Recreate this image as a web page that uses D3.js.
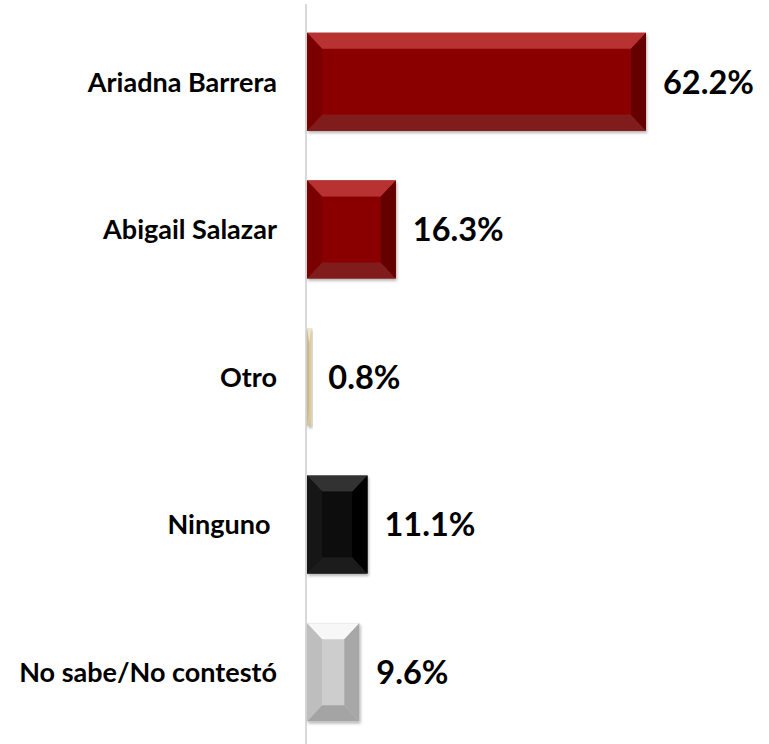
<!DOCTYPE html>
<html>
<head>
<meta charset="utf-8">
<script src="https://cdn.jsdelivr.net/npm/d3@7"></script>
<style>
  body { margin: 0; background: #fff; }
  text { font-family: Lato, "Open Sans", sans-serif; font-weight: bold; white-space: pre; }
</style>
</head>
<body>
<div class="chart"></div>
<script>
// data
const categories = ["Ariadna Barrera", "Abigail Salazar", "Otro", "Ninguno ", "No sabe/No contestó"];
const values = [62.2, 16.3, 0.8, 11.1, 9.6];
const valueLabels = ["62.2%", "16.3%", "0.8%", "11.1%", "9.6%"];

// bevel colours per bar: face, top, bottom, left, right
const shades = [
  { face: "#8a0505", top: "#b93333", bottom: "#801c1c", left: "#7a0303", right: "#650000" },
  { face: "#8a0505", top: "#b93333", bottom: "#801c1c", left: "#7a0303", right: "#650000" },
  { face: "#e3d5ab", top: "#efe6c8", bottom: "#d6c79b", left: "#c9b98c", right: "#d8ca9f" },
  { face: "#0a0a0a", top: "#333333", bottom: "#1e1e1e", left: "#141414", right: "#000000" },
  { face: "#cdcdcd", top: "#f7f7f7", bottom: "#a4a4a4", left: "#bebebe", right: "#a7a7a7" }
];

const width = 769, height = 744;

var svg = d3.select(".chart").append("svg")
    .attr("width", width)
    .attr("height", height);

var defs = svg.append("defs");
defs.append("filter")
    .attr("id", "shadow")
    .attr("x", "-20%").attr("y", "-20%")
    .attr("width", "140%").attr("height", "140%")
  .append("feDropShadow")
    .attr("dx", 1).attr("dy", 2)
    .attr("stdDeviation", 1.5)
    .attr("flood-color", "#000")
    .attr("flood-opacity", 0.3);

var x = d3.scaleLinear()
    .domain([0, 100])
    .range([307, 852]);

var y = d3.scaleBand()
    .domain(categories)
    .range([8, 746])
    .paddingInner(0.336)
    .paddingOuter(0.168);

// vertical axis line
svg.append("line")
    .attr("x1", 306).attr("x2", 306)
    .attr("y1", 4).attr("y2", height)
    .attr("stroke", "#d9d9d9")
    .attr("stroke-width", 2);

var rows = categories.map((c, i) => ({ cat: c, v: values[i], lab: valueLabels[i], s: shades[i] }));

var bars = svg.selectAll("g.bar")
    .data(rows)
    .join("g")
    .attr("class", "bar")
    .attr("filter", "url(#shadow)");

bars.each(function(d) {
    var g = d3.select(this);
    var x0 = x(0), x1 = x(d.v);
    var y0 = y(d.cat), y1 = y0 + y.bandwidth();
    var b = Math.min(15, (x1 - x0) / 2);
    var bv = 16;
    var pts = {
        top: [[x0, y0], [x1, y0], [x1 - b, y0 + bv], [x0 + b, y0 + bv]],
        bottom: [[x0, y1], [x1, y1], [x1 - b, y1 - bv], [x0 + b, y1 - bv]],
        left: [[x0, y0], [x0 + b, y0 + bv], [x0 + b, y1 - bv], [x0, y1]],
        right: [[x1, y0], [x1 - b, y0 + bv], [x1 - b, y1 - bv], [x1, y1]]
    };
    g.append("rect")
        .attr("x", x0).attr("y", y0)
        .attr("width", x1 - x0).attr("height", y1 - y0)
        .attr("fill", d.s.face);
    Object.keys(pts).forEach(k => {
        g.append("polygon")
            .attr("points", pts[k].map(p => p.join(",")).join(" "))
            .attr("fill", d.s[k]);
    });
});

// category labels
svg.selectAll("text.cat")
    .data(rows)
    .join("text")
    .attr("class", "cat")
    .attr("x", 277)
    .attr("y", d => y(d.cat) + y.bandwidth() / 2)
    .attr("dy", "0.36em")
    .attr("text-anchor", "end")
    .attr("font-size", 27)
    .attr("fill", "#000")
    .text(d => d.cat);

// value labels
svg.selectAll("text.val")
    .data(rows)
    .join("text")
    .attr("class", "val")
    .attr("x", d => x(d.v) + 17)
    .attr("y", d => y(d.cat) + y.bandwidth() / 2)
    .attr("dy", "0.36em")
    .attr("font-size", 32.5)
    .attr("fill", "#000")
    .text(d => d.lab);
</script>
</body>
</html>
